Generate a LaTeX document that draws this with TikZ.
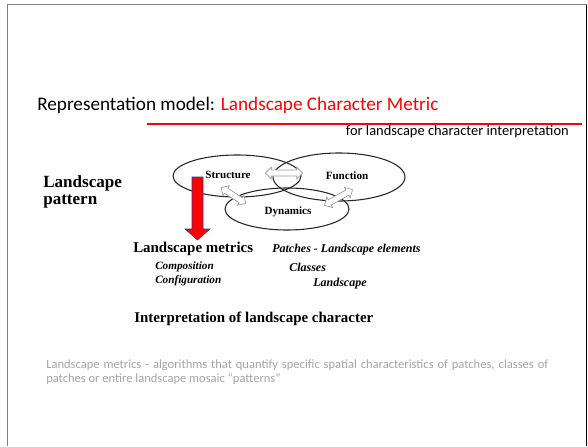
\documentclass[tikz,border=0pt]{standalone}
\usepackage{fontspec}
\setmainfont{Liberation Serif}
\newfontfamily\calibri{Carlito}
\usepackage{tikz}
\usetikzlibrary{
    positioning,
    shapes.geometric,
    shapes.arrows
}
\definecolor{titlered}{RGB}{255,0,0}
\definecolor{notegray}{RGB}{165,165,165}
\definecolor{arrowedge}{RGB}{40,60,140}
\tikzset{
    ring/.style={
        ellipse,
        draw=black!85,
        line width=0.8pt,
        inner sep=0pt
    },
    ringlabel/.style={
        inner sep=0pt,
        anchor=base,
        font=\fontsize{8.3}{10}\selectfont\bfseries
    },
    flowarrow/.style={
        double arrow,
        draw=black!40,
        fill=white,
        line width=0.5pt,
        inner xsep=0pt,
        inner ysep=2pt,
        double arrow head extend=2.2pt
    },
    heading/.style={
        inner sep=0pt,
        anchor=base west,
        font=\fontsize{11.2}{13}\selectfont\bfseries
    },
    item/.style={
        inner sep=0pt,
        anchor=base west,
        font=\fontsize{8.4}{10}\selectfont\bfseries\itshape
    },
    slidetext/.style={
        inner sep=0pt,
        font=\calibri
    }
}

\begin{document}
\begin{tikzpicture}[x=0.75pt, y=-0.75pt]

\fill[white] (0,0) rectangle (588,446);
\useasboundingbox (0,0) rectangle (588,446);

% slide frame
\draw[black!50, line width=1.1pt] (7.5,446) -- (7.5,4.5) -- (587,4.5);
\draw[black, line width=0.9pt] (586.5,4.5) -- (586.5,446);

% title
\coordinate (rulestart) at (147,124);
\coordinate (ruleend) at (582,124);
\draw[color=titlered, line width=0.8pt] (rulestart) -- (ruleend);
\node[slidetext, anchor=base west, font=\calibri\fontsize{14.4}{17}\selectfont] (title) at (37,110)
    {Representation model: {\color{titlered}Landscape Character Metric}};
\node[slidetext, anchor=base east, font=\calibri\fontsize{10.85}{12}\selectfont] (subtitle) at (569,135)
    {for landscape character interpretation};

% the three rings
\node[ring, minimum width=96pt, minimum height=31.5pt] (struct) at (237,176) {};
\node[ring, minimum width=99pt, minimum height=36pt] (func) at (339,177) {};
\node[ring, minimum width=93pt, minimum height=31.5pt] (dyn) at (287,209) {};

\node[ringlabel] (structlbl) at (228,178) {Structure};
\node[ringlabel] (funclbl) at (347,179) {Function};
\node[ringlabel] (dynlbl) at (288,214) {Dynamics};

\node[flowarrow, minimum height=28pt] (sf) at (284,173) {};
\node[flowarrow, minimum height=22pt, rotate=-33] (sd) at (233.5,195.5) {};
\node[flowarrow, minimum height=24pt, rotate=29] (fd) at (338.5,197.5) {};

% red block arrow
\filldraw[fill=titlered, draw=arrowedge, line width=0.4pt]
    (192,177) -- (203,177) -- (203,229) -- (210,229) -- (197.5,240)
    -- (185,229) -- (192,229) -- cycle;

% texts of the scan
\node[heading, font=\fontsize{12.8}{15}\selectfont\bfseries] (pattern) at (43,187) {Landscape};
\node[heading, font=\fontsize{12.8}{15}\selectfont\bfseries] (pattern2) at (43,204) {pattern};

\node[heading] (metrics) at (133,252) {Landscape metrics};
\node[item] (compo) at (155,269) {Composition};
\node[item] (config) at (155,283) {Configuration};

\node[item, font=\fontsize{9}{10}\selectfont\bfseries\itshape] (patches) at (272,252) {Patches - Landscape elements};
\node[item, font=\fontsize{9}{10}\selectfont\bfseries\itshape] (classes) at (289,271) {Classes};
\node[item, font=\fontsize{9}{10}\selectfont\bfseries\itshape] (whole) at (313,286) {Landscape};

\node[heading] (interp) at (134,322) {Interpretation of landscape character};

% note
\node[slidetext, anchor=north west, text width=376.5pt, align=justify,
      text=notegray, font=\calibri\fontsize{9.4}{10.5}\selectfont] (note) at (46,360)
    {Landscape metrics - algorithms that quantify specific spatial characteristics of patches, classes of patches or entire landscape mosaic \textquotedblleft patterns\textquotedblright};

\end{tikzpicture}
\end{document}
